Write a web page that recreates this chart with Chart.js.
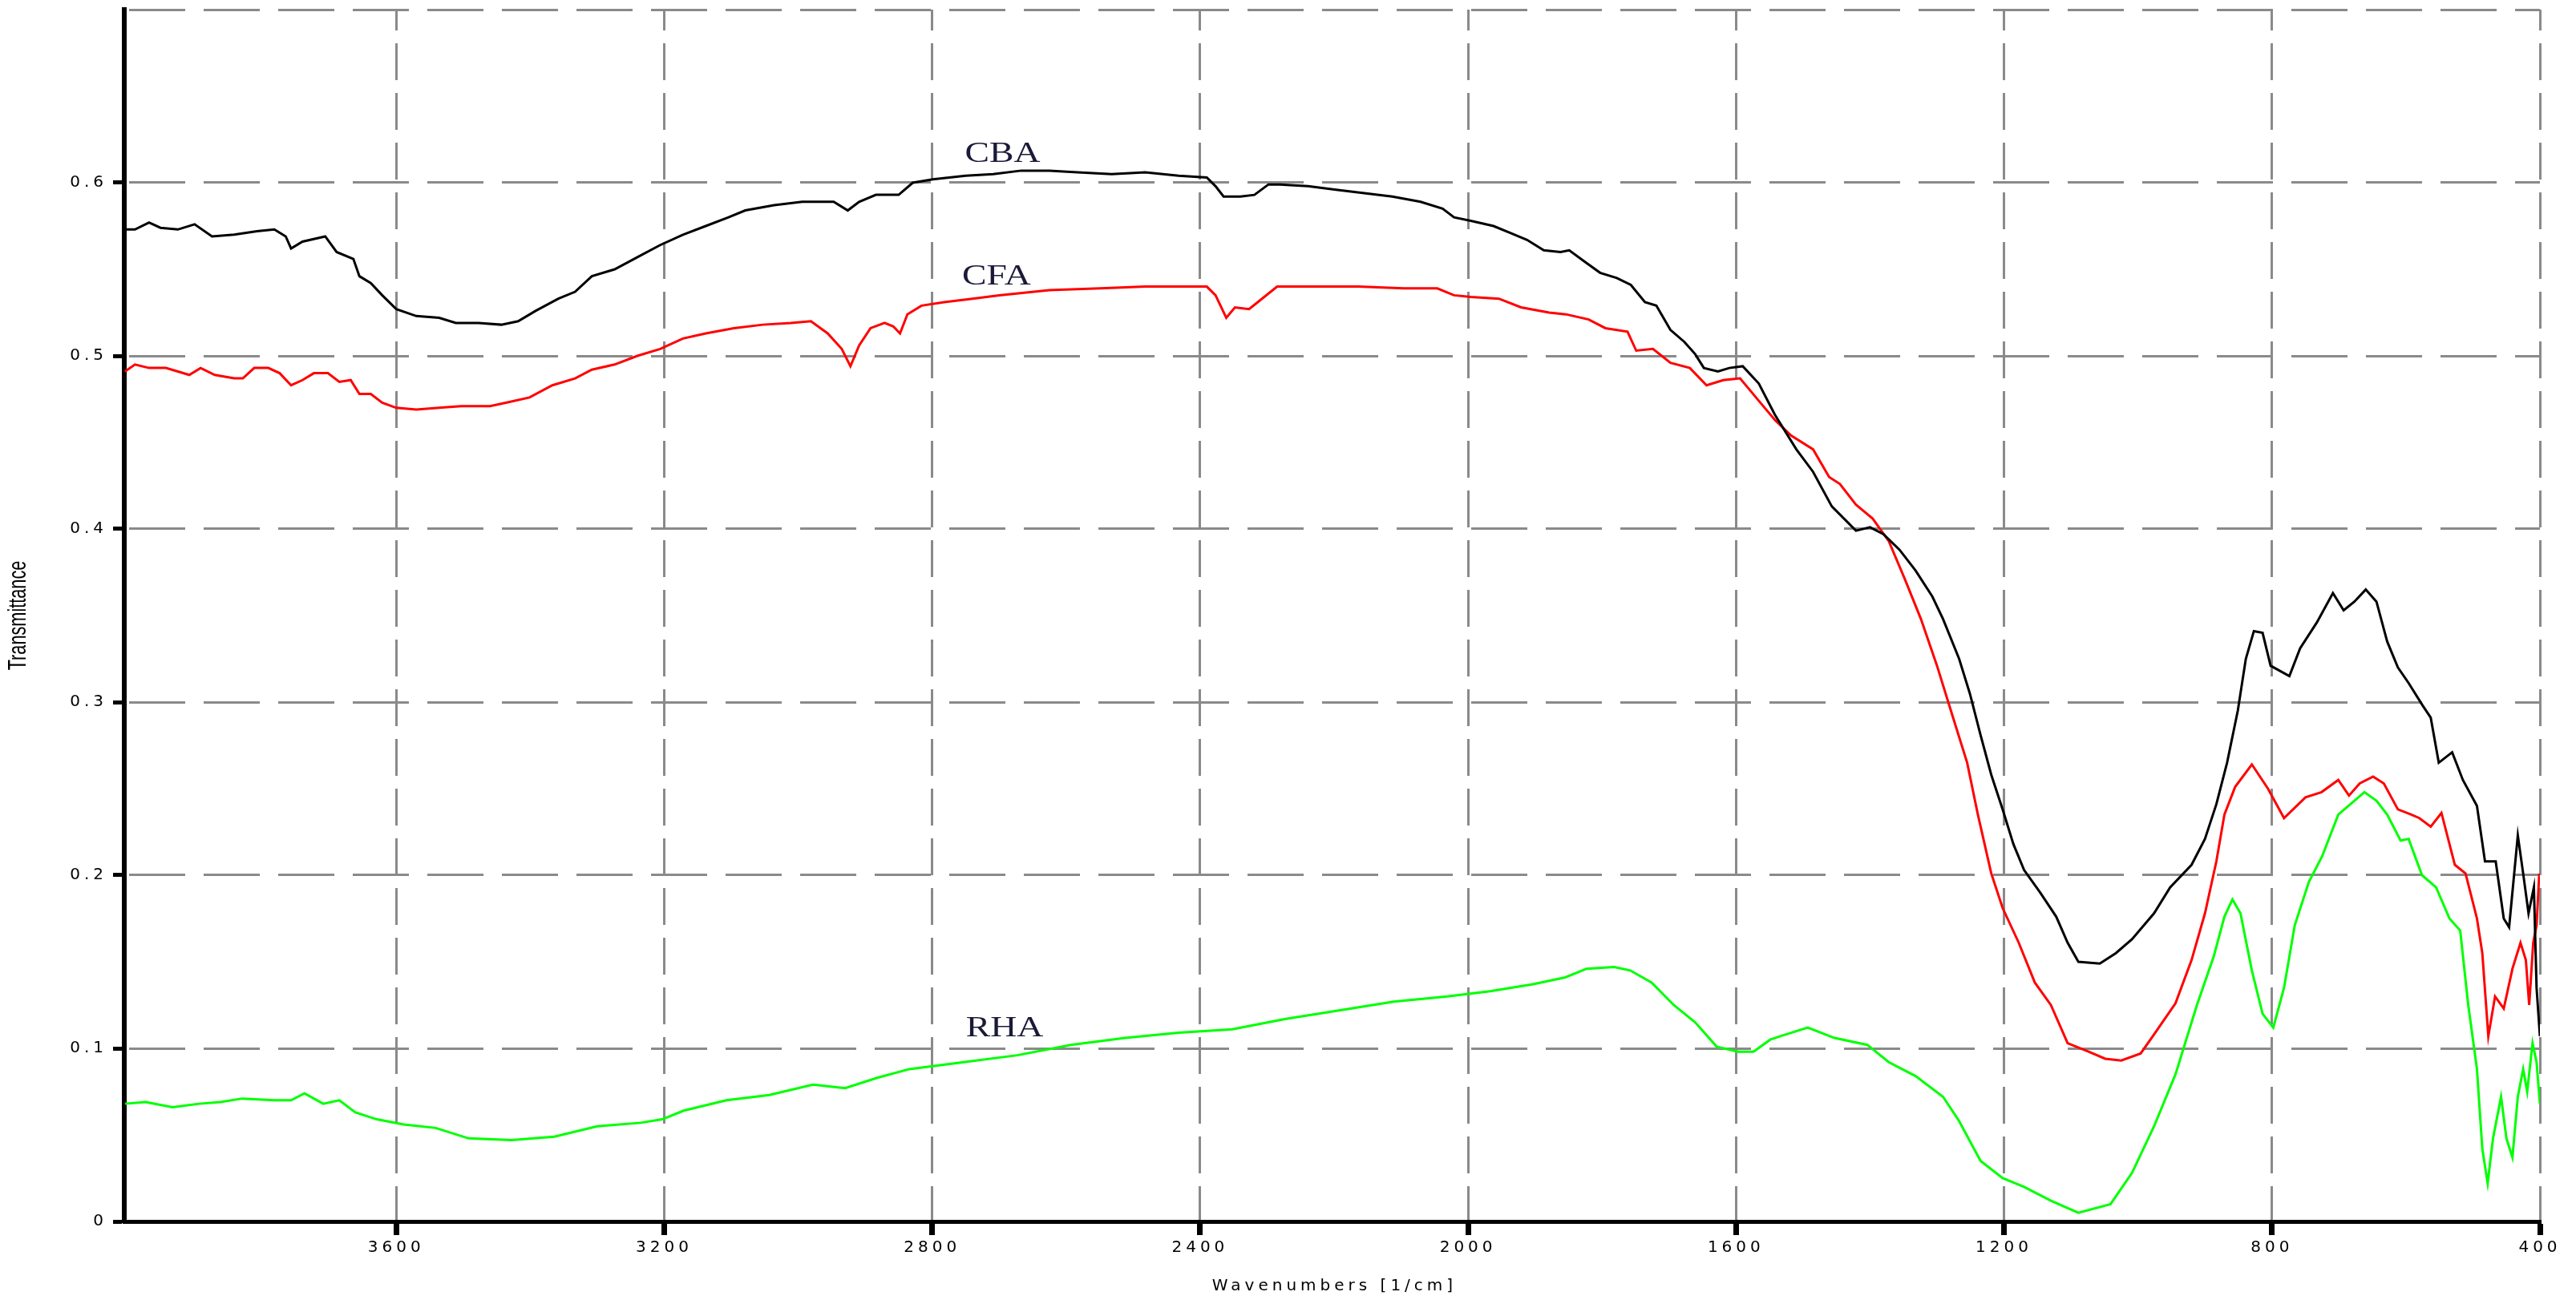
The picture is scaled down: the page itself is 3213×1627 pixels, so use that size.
<!DOCTYPE html>
<html>
<head>
<meta charset="utf-8">
<script src="https://cdn.jsdelivr.net/npm/chart.js@4/dist/chart.umd.min.js"></script>
<style>
html,body{margin:0;padding:0;background:#fff;overflow:hidden}
#wrap{width:3213px;height:1627px;position:relative;background:#fff}
canvas{display:block}
</style>
</head>
<body>
<div id="wrap"><canvas id="c" width="3213" height="1627" style="width:3213px;height:1627px"></canvas></div>
<script>
// ---------------- data ----------------
const xTickValues = [400, 800, 1200, 1600, 2000, 2400, 2800, 3200, 3600];
const yTickValues = [0, 0.1, 0.2, 0.3, 0.4, 0.5, 0.6, 0.7];
const yUnlabelledTick = 0.7;

const seriesNames = ['CBA', 'CFA', 'RHA'];

const cbaWavenumbers = [4005,3990,3969,3952,3926,3901,3875,3842,3808,3782,
3765,3757,3740,3706,3689,3664,3655,3638,3621,3600,
3570,3536,3511,3477,3443,3418,3392,3358,3333,3308,
3274,3240,3206,3172,3138,3104,3079,3036,2994,2947,
2926,2909,2884,2850,2829,2799,2750,2709,2667,2625,
2583,2532,2482,2432,2390,2377,2365,2340,2319,2298,
2281,2239,2197,2155,2113,2071,2038,2021,1996,1962,
1937,1912,1887,1862,1849,1828,1803,1778,1757,1736,
1719,1698,1677,1661,1648,1627,1610,1590,1566,1542,
1510,1485,1457,1421,1400,1380,1356,1332,1307,1291,
1267,1251,1235,1219,1202,1186,1170,1146,1122,1105,
1089,1057,1033,1009,976,952,920,900,883,867,
851,839,827,814,802,774,758,733,709,693,
677,660,644,628,612,596,575,563,551,531,
515,494,482,466,454,446,433,425,417,409,
405,400];
const cbaTransmittance = [0.573,0.573,0.577,0.574,0.573,0.576,0.569,0.570,0.572,0.573,
0.569,0.562,0.566,0.569,0.560,0.556,0.546,0.542,0.535,0.527,
0.523,0.522,0.519,0.519,0.518,0.520,0.526,0.533,0.537,0.546,
0.550,0.557,0.564,0.570,0.575,0.580,0.584,0.587,0.589,0.589,
0.584,0.589,0.593,0.593,0.600,0.602,0.604,0.605,0.607,0.607,
0.606,0.605,0.606,0.604,0.603,0.598,0.592,0.592,0.593,0.599,
0.599,0.598,0.596,0.594,0.592,0.589,0.585,0.580,0.578,0.575,
0.571,0.567,0.561,0.560,0.561,0.555,0.548,0.545,0.541,0.531,
0.529,0.515,0.508,0.501,0.493,0.491,0.493,0.494,0.484,0.466,
0.446,0.433,0.413,0.399,0.401,0.397,0.388,0.376,0.361,0.348,
0.325,0.305,0.281,0.258,0.238,0.218,0.203,0.190,0.176,0.161,
0.150,0.149,0.155,0.163,0.178,0.193,0.206,0.221,0.241,0.265,
0.295,0.325,0.341,0.340,0.321,0.315,0.331,0.346,0.363,0.353,
0.358,0.365,0.358,0.335,0.320,0.311,0.298,0.291,0.265,0.271,
0.255,0.240,0.208,0.208,0.175,0.170,0.223,0.201,0.178,0.193,
0.135,0.107];

const cfaWavenumbers = [4005,3990,3969,3944,3926,3909,3892,3871,3842,3829,
3812,3791,3774,3757,3740,3723,3702,3685,3668,3655,
3638,3621,3600,3570,3536,3503,3460,3435,3401,3367,
3333,3308,3274,3240,3206,3172,3138,3096,3053,3011,
2981,2956,2935,2922,2909,2892,2871,2858,2848,2837,
2816,2782,2740,2700,2625,2549,2482,2432,2390,2377,
2361,2348,2327,2314,2285,2247,2164,2096,2046,2021,
1996,1954,1921,1879,1854,1820,1795,1762,1749,1724,
1698,1669,1644,1619,1594,1566,1542,1518,1485,1461,
1445,1421,1396,1372,1348,1324,1300,1276,1255,1239,
1219,1202,1178,1154,1130,1105,1073,1049,1025,996,
976,944,920,900,883,871,855,830,806,782,
750,726,701,685,669,649,633,612,592,580,
563,547,527,511,494,486,477,467,454,441,
429,421,416,410,405,401];
const cfaTransmittance = [0.491,0.495,0.493,0.493,0.491,0.489,0.493,0.489,0.487,0.487,
0.493,0.493,0.490,0.483,0.486,0.490,0.490,0.485,0.486,0.478,
0.478,0.473,0.470,0.469,0.470,0.471,0.471,0.473,0.476,0.483,
0.487,0.492,0.495,0.500,0.504,0.510,0.513,0.516,0.518,0.519,
0.520,0.513,0.504,0.494,0.506,0.516,0.519,0.517,0.513,0.524,
0.529,0.531,0.533,0.535,0.538,0.539,0.540,0.540,0.540,0.535,
0.522,0.528,0.527,0.531,0.540,0.540,0.540,0.539,0.539,0.535,
0.534,0.533,0.528,0.525,0.524,0.521,0.516,0.514,0.503,0.504,
0.496,0.493,0.483,0.486,0.487,0.474,0.463,0.454,0.446,0.430,
0.426,0.414,0.406,0.393,0.371,0.348,0.321,0.291,0.265,0.235,
0.201,0.181,0.161,0.138,0.125,0.103,0.098,0.094,0.093,0.097,
0.108,0.126,0.151,0.178,0.208,0.235,0.251,0.264,0.250,0.233,
0.245,0.248,0.255,0.246,0.253,0.257,0.253,0.238,0.235,0.233,
0.228,0.236,0.206,0.201,0.175,0.155,0.107,0.130,0.123,0.146,
0.161,0.151,0.125,0.161,0.171,0.201];

const rhaWavenumbers = [4005,3974,3934,3894,3862,3830,3782,3757,3737,3709,
3685,3661,3629,3589,3541,3492,3428,3364,3300,3235,
3203,3171,3107,3043,2978,2930,2882,2834,2753,2673,
2593,2512,2432,2352,2272,2191,2111,2031,1967,1903,
1855,1823,1782,1758,1726,1693,1661,1629,1597,1574,
1549,1534,1493,1453,1404,1372,1332,1291,1267,1235,
1202,1170,1130,1089,1041,1009,976,944,912,887,
871,859,847,830,814,798,782,766,745,725,
701,677,662,644,628,608,596,576,555,535,
519,507,494,486,478,470,458,450,441,433,
425,419,411,405,400];
const rhaTransmittance = [0.068,0.069,0.066,0.068,0.069,0.071,0.070,0.070,0.074,0.068,
0.070,0.063,0.059,0.056,0.054,0.048,0.047,0.049,0.055,0.057,
0.059,0.064,0.070,0.073,0.079,0.077,0.083,0.088,0.092,0.096,
0.102,0.106,0.109,0.111,0.117,0.122,0.127,0.130,0.133,0.137,
0.141,0.146,0.147,0.145,0.138,0.125,0.115,0.101,0.098,0.098,
0.105,0.107,0.112,0.106,0.102,0.092,0.084,0.072,0.058,0.035,
0.025,0.020,0.012,0.005,0.010,0.028,0.055,0.085,0.125,0.153,
0.176,0.186,0.178,0.145,0.120,0.112,0.135,0.171,0.196,0.211,
0.235,0.243,0.248,0.243,0.235,0.220,0.221,0.200,0.193,0.175,
0.168,0.125,0.088,0.042,0.022,0.048,0.072,0.048,0.037,0.072,
0.088,0.075,0.103,0.092,0.068];

// anchor (in data units) of each series name label: [CBA, CFA, RHA]
const labelWavenumbers = [2695, 2704, 2692];
const labelTransmittance = [0.612, 0.541, 0.107];

const xTitle = 'Wavenumbers [1/cm]';
const yTitle = 'Transmittance';

// ---------------- chart ----------------
function pairs(xs, ys) { return xs.map((v, i) => ({x: v, y: ys[i]})); }

const tickFont = {family: '"DejaVu Sans"', size: 20};

const textPlugin = {
  id: 'texts',
  beforeDraw(chart) { chart.ctx.letterSpacing = '5px'; },
  beforeDatasetsDraw(chart) { chart.ctx.letterSpacing = '0px'; },
  afterDatasetsDraw(chart) {
    const {ctx, chartArea} = chart;
    const xs = chart.scales.x, ys = chart.scales.y;
    ctx.save();
    ctx.letterSpacing = '0px';
    ctx.font = '36px "Liberation Serif"';
    ctx.fillStyle = '#1a1a38';
    ctx.textAlign = 'center';
    ctx.textBaseline = 'alphabetic';
    seriesNames.forEach((name, i) => {
      const px = xs.getPixelForValue(labelWavenumbers[i]);
      const py = ys.getPixelForValue(labelTransmittance[i]);
      ctx.save();
      ctx.translate(px, py);
      ctx.scale(1.27, 1);
      ctx.fillText(name, 0, 0);
      ctx.restore();
    });
    // y axis title (narrow, rotated)
    ctx.fillStyle = '#000';
    ctx.font = '31px "Liberation Sans"';
    ctx.save();
    ctx.translate(32, (chartArea.top + chartArea.bottom) / 2);
    ctx.rotate(-Math.PI / 2);
    ctx.scale(0.7, 1);
    ctx.fillText(yTitle, 0, 0);
    ctx.restore();
    // x axis title
    ctx.letterSpacing = '5px';
    ctx.font = '20px "DejaVu Sans"';
    ctx.textBaseline = 'middle';
    ctx.fillText(xTitle, (chartArea.left + chartArea.right) / 2 + 3, chartArea.bottom + 81);
    ctx.restore();
  }
};

new Chart(document.getElementById('c'), {
  type: 'line',
  data: {
    datasets: [
      {label: seriesNames[0], data: pairs(cbaWavenumbers, cbaTransmittance), borderColor: '#000000', borderWidth: 3, pointRadius: 0, tension: 0, fill: false},
      {label: seriesNames[1], data: pairs(cfaWavenumbers, cfaTransmittance), borderColor: '#ff0000', borderWidth: 3, pointRadius: 0, tension: 0, fill: false},
      {label: seriesNames[2], data: pairs(rhaWavenumbers, rhaTransmittance), borderColor: '#00ff00', borderWidth: 3, pointRadius: 0, tension: 0, fill: false}
    ]
  },
  options: {
    responsive: false,
    devicePixelRatio: 1,
    animation: false,
    layout: {padding: {left: 0, right: 45, top: 12, bottom: 0}},
    plugins: {legend: {display: false}, tooltip: {enabled: false}},
    scales: {
      x: {
        type: 'linear',
        reverse: true,
        min: 400,
        max: 4006,
        afterBuildTicks: s => { s.ticks = xTickValues.map(v => ({value: v})); },
        afterFit: s => { s.height = 103; s.paddingLeft = 0; s.paddingRight = 0; },
        ticks: {font: tickFont, color: '#000', padding: 4, maxRotation: 0, autoSkip: false, callback: v => String(v)},
        grid: {color: '#8a8a8a', lineWidth: 3, tickColor: '#000', tickWidth: 7, tickLength: 17, tickBorderDash: []},
        border: {display: true, color: '#000', width: 5, dash: [46, 16], dashOffset: 20},
        title: {display: false}
      },
      y: {
        min: 0,
        max: 0.7,
        afterBuildTicks: s => { s.ticks = yTickValues.map(v => ({value: v})); },
        afterFit: s => { s.width = 155; s.paddingTop = 0; s.paddingBottom = 0; },
        ticks: {font: tickFont, color: '#000', padding: 7, autoSkip: false,
          callback: v => (v === yUnlabelledTick ? '' : String(v))},
        grid: {color: '#8a8a8a', lineWidth: 3, tickWidth: 5, tickLength: 14, tickBorderDash: [],
          tickColor: c => (c.tick && c.tick.value === yUnlabelledTick ? 'rgba(0,0,0,0)' : '#000')},
        border: {display: true, color: '#000', width: 6, dash: [70, 23], dashOffset: -3},
        title: {display: false}
      }
    }
  },
  plugins: [textPlugin]
});
</script>
</body>
</html>
